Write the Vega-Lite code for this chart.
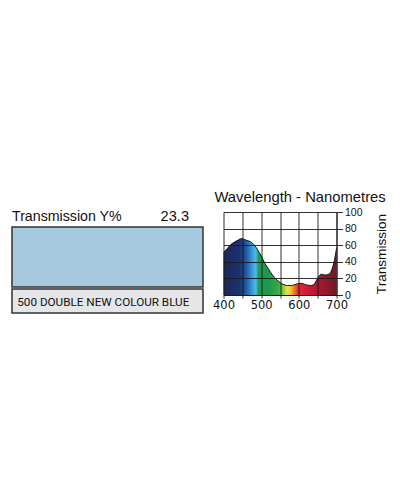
{
  "$schema": "https://vega.github.io/schema/vega-lite/v6.json",
  "background": "white",
  "padding": {"left": 11, "top": 190, "right": 0, "bottom": 0},
  "config": {"font": "Liberation Sans", "view": {"stroke": null}},
  "spacing": 8.5,
  "hconcat": [
    {
      "spacing": 0,
      "vconcat": [
        {
          "width": 191,
          "height": 13.5,
          "data": {"values": [{"label": "Transmission Y%", "value": "23.3"}]},
          "layer": [
            {
              "mark": {"type": "text", "align": "left", "baseline": "alphabetic", "fontSize": 14.2, "color": "#111", "dy": -4.3},
              "encoding": {"text": {"field": "label"}, "x": {"value": 0}, "y": {"value": "height"}}
            },
            {
              "mark": {"type": "text", "align": "right", "baseline": "alphabetic", "fontSize": 14.6, "color": "#111", "dx": -14, "dy": -4.3},
              "encoding": {"text": {"field": "value"}, "x": {"value": "width"}, "y": {"value": "height"}}
            }
          ]
        },
        {
          "width": 191,
          "height": 60,
          "data": {"values": [{"filter": "500 DOUBLE NEW COLOUR BLUE"}]},
          "mark": {"type": "rect", "fill": "#a7c9df", "stroke": "#333", "strokeWidth": 1.5},
          "encoding": {"x": {"value": 0}, "x2": {"value": "width"}, "y": {"value": 0}, "y2": {"value": "height"}}
        },
        {
          "width": 191,
          "height": 24,
          "view": {"fill": "#e5e6e8", "stroke": "#333", "strokeWidth": 1.5},
          "data": {"values": [{"name": "500 DOUBLE NEW COLOUR BLUE"}]},
          "mark": {"type": "text", "align": "left", "baseline": "middle", "font": "Roboto", "fontSize": 11.7, "color": "#111", "dx": 5.3, "dy": 1},
          "encoding": {"text": {"field": "name"}, "x": {"value": 0}}
        }
      ]
    },
    {
      "width": 113,
      "height": 83,
      "title": {"text": "Wavelength - Nanometres", "fontSize": 14.8, "fontWeight": "normal", "color": "#111", "frame": "bounds", "anchor": "middle", "baseline": "alphabetic", "offset": -10},
      "data": {
        "values": [
          {"wavelength": 400, "transmission": 51},
          {"wavelength": 410, "transmission": 56},
          {"wavelength": 420, "transmission": 61},
          {"wavelength": 430, "transmission": 64},
          {"wavelength": 440, "transmission": 66.5},
          {"wavelength": 448, "transmission": 68},
          {"wavelength": 460, "transmission": 66},
          {"wavelength": 470, "transmission": 64.5},
          {"wavelength": 478, "transmission": 62},
          {"wavelength": 490, "transmission": 55},
          {"wavelength": 500, "transmission": 47},
          {"wavelength": 510, "transmission": 38},
          {"wavelength": 520, "transmission": 31},
          {"wavelength": 530, "transmission": 24},
          {"wavelength": 540, "transmission": 19},
          {"wavelength": 550, "transmission": 15},
          {"wavelength": 560, "transmission": 12.5},
          {"wavelength": 570, "transmission": 11.5},
          {"wavelength": 580, "transmission": 11.5},
          {"wavelength": 590, "transmission": 12.5},
          {"wavelength": 600, "transmission": 14},
          {"wavelength": 608, "transmission": 14},
          {"wavelength": 618, "transmission": 12.5},
          {"wavelength": 630, "transmission": 11.5},
          {"wavelength": 638, "transmission": 12},
          {"wavelength": 645, "transmission": 16},
          {"wavelength": 652, "transmission": 22},
          {"wavelength": 660, "transmission": 25},
          {"wavelength": 670, "transmission": 24},
          {"wavelength": 680, "transmission": 25},
          {"wavelength": 688, "transmission": 31},
          {"wavelength": 695, "transmission": 43},
          {"wavelength": 700, "transmission": 56}
        ]
      },
      "encoding": {
        "x": {
          "field": "wavelength", "type": "quantitative",
          "scale": {"domain": [400, 700], "nice": false, "zero": false},
          "axis": {
            "orient": "bottom", "title": null, "zindex": 1,
            "values": [400, 450, 500, 550, 600, 650, 700],
            "labelExpr": "datum.value % 100 === 0 ? datum.label : ''",
            "labelFlush": false, "labelOverlap": false,
            "labelFont": "DejaVu Sans", "labelFontSize": 11.5, "labelColor": "#111", "labelPadding": 1,
            "grid": true, "gridColor": "#1a1a1a", "gridOpacity": 1, "gridWidth": 0.9,
            "tickSize": 3, "tickColor": "#1a1a1a", "tickWidth": 0.9,
            "domainColor": "#1a1a1a", "domainWidth": 1
          }
        },
        "y": {
          "field": "transmission", "type": "quantitative",
          "scale": {"domain": [0, 100], "nice": false},
          "axis": {
            "orient": "right", "title": "Transmission", "zindex": 1,
            "values": [0, 20, 40, 60, 80, 100],
            "labelFont": "Liberation Sans", "labelFontSize": 10.5, "labelColor": "#111", "labelPadding": 2,
            "grid": true, "gridColor": "#1a1a1a", "gridOpacity": 1, "gridWidth": 0.9,
            "tickSize": 6, "tickColor": "#1a1a1a", "tickWidth": 0.9,
            "domainColor": "#1a1a1a", "domainWidth": 1,
            "titleFont": "Liberation Sans", "titleFontSize": 13.6, "titleFontWeight": "normal", "titleColor": "#111",
            "titleAngle": 270, "titlePadding": 26
          }
        }
      },
      "layer": [
        {
          "mark": {
            "type": "area", "interpolate": "monotone",
            "fill": {
              "gradient": "linear", "x1": 0, "x2": 1, "y1": 0, "y2": 0,
              "stops": [
                {"offset": 0, "color": "#1c2757"},
                {"offset": 0.133, "color": "#1c3070"},
                {"offset": 0.183, "color": "#1d4a94"},
                {"offset": 0.227, "color": "#2a78be"},
                {"offset": 0.26, "color": "#3aa4dc"},
                {"offset": 0.287, "color": "#58b8e0"},
                {"offset": 0.307, "color": "#1f9a58"},
                {"offset": 0.4, "color": "#1e9a48"},
                {"offset": 0.483, "color": "#3aa845"},
                {"offset": 0.527, "color": "#8cc63e"},
                {"offset": 0.56, "color": "#e6e23c"},
                {"offset": 0.593, "color": "#f6c436"},
                {"offset": 0.627, "color": "#ef7a2e"},
                {"offset": 0.66, "color": "#e4283a"},
                {"offset": 0.767, "color": "#c81838"},
                {"offset": 0.867, "color": "#a0182e"},
                {"offset": 1, "color": "#701a24"}
              ]
            }
          }
        },
        {"mark": {"type": "line", "interpolate": "monotone", "stroke": "#111", "strokeWidth": 1}}
      ]
    }
  ]
}
